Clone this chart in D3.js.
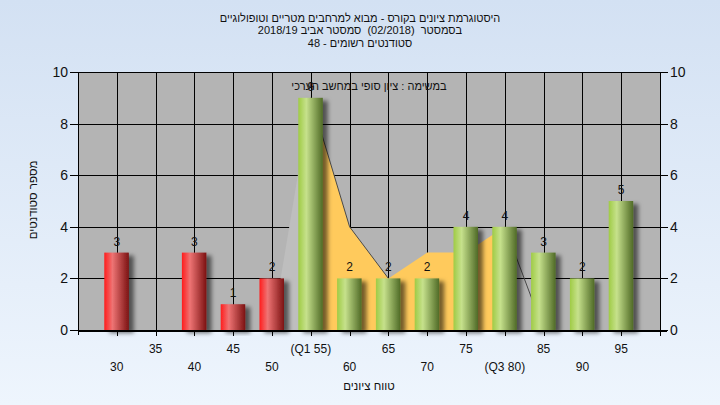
<!DOCTYPE html>
<html>
<head>
<meta charset="utf-8">
<script src="https://cdn.jsdelivr.net/npm/d3@7"></script>
<style>
  html, body { margin: 0; padding: 0; }
  body { width: 720px; height: 405px; overflow: hidden; }
  text { font-family: "Liberation Sans", Arial, "DejaVu Sans", sans-serif; fill: #111; white-space: pre; }
</style>
</head>
<body>
<svg id="chart" width="720" height="405"></svg>
<script>
// ---- data ----
const categories = [30, 35, 40, 45, 50, 55, 60, 65, 70, 75, 80, 85, 90, 95];
const counts = [3, 0, 3, 1, 2, 9, 2, 2, 2, 4, 4, 3, 2, 5];
const tickLabels = ["30", "35", "40", "45", "50", "(Q1 55)", "60", "65", "70", "75", "(Q3 80)", "85", "90", "95"];
const curveCats = [50, 55, 60, 65, 70, 75, 80, 85];
const curveValues = [0, 9, 4, 2, 3, 3, 4, 0];
const q1 = 55, q3 = 80;
const yTicks = [0, 2, 4, 6, 8, 10];
const titleLines = [
  "היסטוגרמת ציונים בקורס - מבוא למרחבים מטריים וטופולוגיים",
  "בסמסטר  (02/2018)  סמסטר אביב 2018/19",
  "סטודנטים רשומים - 48"
];
const subtitle = "במשימה : ציון סופי במחשב הערכי";
const xTitle = "טווח ציונים";
const yTitle = "מספר סטודנטים";

// ---- layout ----
const W = 720, H = 405;
const plot = { left: 78, right: 660, top: 72, bottom: 330 };
const svg = d3.select("#chart");
const defs = svg.append("defs");

const bg = defs.append("linearGradient").attr("id", "bg").attr("x1", 0).attr("y1", 0).attr("x2", 0).attr("y2", 1);
bg.append("stop").attr("offset", "0%").attr("stop-color", "#D3E1F3");
bg.append("stop").attr("offset", "100%").attr("stop-color", "#EEF5FD");

function barGrad(id, c0, c1, c2) {
  const g = defs.append("linearGradient").attr("id", id).attr("x1", 0).attr("y1", 0).attr("x2", 1).attr("y2", 0);
  g.append("stop").attr("offset", "0%").attr("stop-color", c0);
  g.append("stop").attr("offset", "33%").attr("stop-color", c1);
  g.append("stop").attr("offset", "100%").attr("stop-color", c2);
}
barGrad("gRed", "#FF1C1C", "#EE7474", "#7C1212");
barGrad("gGreen", "#9FCB45", "#C6E18C", "#4F6A26");

const sh = defs.append("filter").attr("id", "shadow").attr("x", "-30%").attr("y", "-10%").attr("width", "180%").attr("height", "130%");
sh.append("feDropShadow").attr("dx", 5).attr("dy", 3).attr("stdDeviation", 2)
  .attr("flood-color", "#000").attr("flood-opacity", 0.55);

svg.append("rect").attr("width", W).attr("height", H).attr("fill", "url(#bg)");

const x = d3.scaleLinear().domain([25, 100]).range([plot.left, plot.right]);
const y = d3.scaleLinear().domain([0, 10]).range([plot.bottom, plot.top]);

// plot background
svg.append("rect").attr("x", plot.left).attr("y", plot.top)
  .attr("width", plot.right - plot.left).attr("height", plot.bottom - plot.top)
  .attr("fill", "#B4B4B4");

// grid
const grid = svg.append("g").attr("stroke", "#000").attr("stroke-width", 1);
grid.selectAll("line.v").data(categories).join("line").attr("class", "v")
  .attr("x1", d => Math.round(x(d)) + 0.5).attr("x2", d => Math.round(x(d)) + 0.5)
  .attr("y1", plot.top).attr("y2", plot.bottom);
grid.selectAll("line.h").data(yTicks).join("line").attr("class", "h")
  .attr("x1", plot.left).attr("x2", plot.right)
  .attr("y1", d => Math.round(y(d)) + 0.5).attr("y2", d => Math.round(y(d)) + 0.5);

// area curve
const pts = curveCats.map((c, i) => [c, curveValues[i]]);
const areaGen = d3.area().x(d => x(d[0])).y0(y(0)).y1(d => y(d[1]));
const inner = pts.filter(d => d[0] >= q1 && d[0] <= q3);
const leftPart = pts.filter(d => d[0] <= q1);
svg.append("path").datum(leftPart).attr("d", areaGen).attr("fill", "#BEBEBE");
svg.append("path").datum(inner).attr("d", areaGen).attr("fill", "#FFCA5C");
const lineG = svg.append("g").attr("stroke", "#4a4a4a").attr("stroke-width", 1).attr("fill", "none");
for (let i = 0; i < pts.length - 1; i++) {
  if (pts[i + 1][1] < pts[i][1] && pts[i][0] >= q1) {
    lineG.append("line")
      .attr("x1", x(pts[i][0])).attr("y1", y(pts[i][1]))
      .attr("x2", x(pts[i + 1][0])).attr("y2", y(pts[i + 1][1]));
  }
}

// bars
const barData = categories.map((c, i) => ({ c, v: counts[i], label: tickLabels[i] }));
const bw = 24.5;
svg.append("g").selectAll("rect").data(barData.filter(d => d.v > 0)).join("rect")
  .attr("x", d => x(d.c) - 12.5).attr("width", bw)
  .attr("y", d => y(d.v)).attr("height", d => y(0) - y(d.v))
  .attr("fill", d => d.c < q1 ? "url(#gRed)" : "url(#gGreen)")
  .attr("filter", "url(#shadow)");

// axes lines
const ax = svg.append("g").attr("stroke", "#000").attr("stroke-width", 1);
ax.append("line").attr("x1", plot.left + 0.5).attr("x2", plot.left + 0.5).attr("y1", plot.top).attr("y2", plot.bottom + 5);
ax.append("line").attr("x1", plot.right + 0.5).attr("x2", plot.right + 0.5).attr("y1", plot.top).attr("y2", plot.bottom + 5);
ax.append("line").attr("x1", plot.left).attr("x2", plot.right + 7).attr("y1", plot.bottom + 1.5).attr("y2", plot.bottom + 1.5);
ax.selectAll("line.xt").data(categories.concat([100])).join("line").attr("class", "xt")
  .attr("x1", d => Math.round(x(d)) + 0.5).attr("x2", d => Math.round(x(d)) + 0.5)
  .attr("y1", plot.bottom).attr("y2", plot.bottom + 6);
ax.selectAll("line.yl").data(yTicks).join("line").attr("class", "yl")
  .attr("x1", plot.left - 8).attr("x2", plot.left)
  .attr("y1", d => Math.round(y(d)) + 0.5).attr("y2", d => Math.round(y(d)) + 0.5);
ax.selectAll("line.yr").data(yTicks).join("line").attr("class", "yr")
  .attr("x1", plot.right).attr("x2", plot.right + 8)
  .attr("y1", d => Math.round(y(d)) + 0.5).attr("y2", d => Math.round(y(d)) + 0.5);

// y labels
svg.append("g").selectAll("text").data(yTicks).join("text")
  .attr("x", plot.left - 10).attr("y", d => y(d) + 5)
  .attr("text-anchor", "end").attr("font-size", 14).text(d => d);
svg.append("g").selectAll("text").data(yTicks).join("text")
  .attr("x", plot.right + 10).attr("y", d => y(d) + 5)
  .attr("text-anchor", "start").attr("font-size", 14).text(d => d);

// x labels (staggered)
svg.append("g").selectAll("text").data(barData).join("text")
  .attr("x", d => x(d.c)).attr("y", (d, i) => i % 2 === 1 ? 353 : 371)
  .attr("text-anchor", "middle").attr("font-size", 12).text(d => d.label);

// bar value labels
svg.append("g").selectAll("text").data(barData.filter(d => d.v > 0)).join("text")
  .attr("x", d => x(d.c)).attr("y", d => y(d.v) - 7)
  .attr("text-anchor", "middle").attr("font-size", 12).text(d => d.v);

// titles
svg.append("g").selectAll("text").data(titleLines).join("text")
  .attr("x", 360).attr("y", (d, i) => 22 + i * 12.3)
  .attr("text-anchor", "middle").attr("font-size", 11).attr("direction", "rtl")
  .text(d => d);
svg.append("text").attr("x", 369).attr("y", 90).attr("text-anchor", "middle")
  .attr("font-size", 11).attr("direction", "rtl").text(subtitle);
svg.append("text").attr("x", 369).attr("y", 390).attr("text-anchor", "middle")
  .attr("font-size", 11.5).attr("direction", "rtl").text(xTitle);
svg.append("text").attr("transform", "translate(37,200) rotate(-90)").attr("text-anchor", "middle")
  .attr("font-size", 11.5).attr("direction", "rtl").text(yTitle);
</script>
</body>
</html>
